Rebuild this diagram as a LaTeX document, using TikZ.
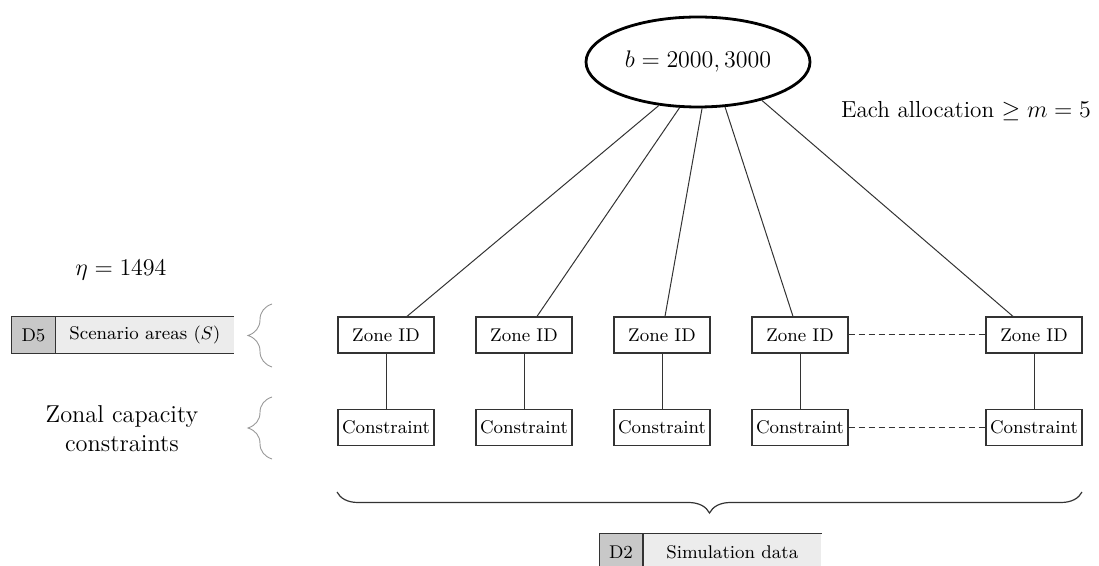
\documentclass[tikz,border=0pt]{standalone}
\usetikzlibrary{shapes.geometric,decorations.pathreplacing}
\definecolor{storedark}{HTML}{C8C8C8}
\definecolor{storelight}{HTML}{ECECEC}
\definecolor{edgegray}{HTML}{333333}
\newcommand{\smalltxt}{\fontsize{9.2}{11}\selectfont}
\newcommand{\bigtxt}{\fontsize{11.6}{14}\selectfont}
\begin{document}
\begin{tikzpicture}[x=0.5pt,y=-0.5pt,
  cell/.style={draw=edgegray,line width=0.6pt,fill=white,minimum width=48pt,
    minimum height=18pt,inner sep=0pt,font=\smalltxt},
  idcell/.style={fill=storedark,minimum width=21.5pt,minimum height=18pt,
    inner sep=0pt,font=\smalltxt},
  namecell/.style={fill=storelight,minimum width=89pt,minimum height=18pt,
    inner sep=0pt,font=\smalltxt,anchor=west},
  storeline/.style={draw=edgegray,line width=0.6pt},
  link/.style={draw=edgegray,line width=0.5pt},
  dashlink/.style={draw=edgegray,line width=0.5pt,dash pattern=on 3pt off 2pt},
  smallbrace/.style={draw=gray!80,line width=0.45pt,
    decorate,decoration={brace,amplitude=12pt}},
  bigbrace/.style={draw=edgegray,line width=0.6pt,
    decorate,decoration={brace,amplitude=10.5pt,aspect=0.5}}]
\useasboundingbox (0,0) rectangle (1099,566);

% budget node
\node[ellipse,draw=black,line width=1.4pt,minimum width=112pt,minimum height=45pt,
  inner sep=0pt,font=\bigtxt] (bud) at (698,62) {$b = 2000, 3000$};
\node[font=\bigtxt] (alloc) at (966,111) {Each allocation $\geq m = 5$};

% zone row and constraint row
\foreach \i/\x in {1/386,2/524,3/662,4/800,5/1034}{
  \node[cell] (z\i) at (\x,335) {Zone ID};
  \node[cell] (c\i) at (\x,427.5) {Constraint};
  \draw[link] (z\i.south) -- (c\i.north);
}
\draw[dashlink] (z4.east) -- (z5.west);
\draw[dashlink] (c4.east) -- (c5.west);

% allocations from the budget to each zone
\draw[link] (bud.228.5) -- ([xshift=10.5pt]z1.north);
\draw[link] (bud.248.2) -- ([xshift=6.5pt]z2.north);
\draw[link] (bud.275.1) -- ([xshift=1.5pt]z3.north);
\draw[link] (bud.301.5) -- ([xshift=-3.5pt]z4.north);
\draw[link] (bud.329.2) -- ([xshift=-10.5pt]z5.north);

% data store D5
\node[idcell] (d5) at (33.5,335) {D5};
\node[namecell] (s5) at (d5.east) {Scenario areas $(S)$};
\draw[storeline] (s5.north east) -- (d5.north west) -- (d5.south west) -- (s5.south east);
\draw[storeline] (d5.north east) -- (d5.south east);

% data store D2
\node[idcell] (d2) at (621,552) {D2};
\node[namecell] (s2) at (d2.east) {Simulation data};
\draw[storeline] (s2.north east) -- (d2.north west) -- (d2.south west) -- (s2.south east);
\draw[storeline] (d2.north east) -- (d2.south east);

% left-hand labels
\node[font=\bigtxt] (eta) at (121,270) {$\eta = 1494$};
\node[font=\fontsize{12.2}{14.5}\selectfont,align=center] (zcc) at (122,429)
  {Zonal capacity\\constraints};

% braces
\coordinate (b1s) at (272,367);
\coordinate (b1e) at (272,304);
\coordinate (b2s) at (272,459);
\coordinate (b2e) at (272,397);
\draw[smallbrace] (b1s) -- (b1e);
\draw[smallbrace] (b2s) -- (b2e);
\coordinate (b3s) at (1082,492);
\coordinate (b3e) at (337,492);
\draw[bigbrace] (b3s) -- (b3e);
\end{tikzpicture}
\end{document}
